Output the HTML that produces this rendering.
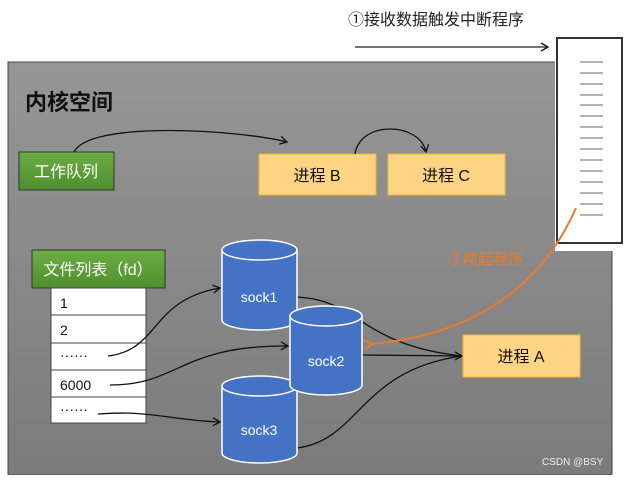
<!DOCTYPE html>
<html><head><meta charset="utf-8"><style>
body{margin:0;width:630px;height:475px;background:#fff;overflow:hidden;font-family:"Liberation Sans","Noto Sans CJK SC",sans-serif}
</style></head><body>
<svg width="630" height="475" viewBox="0 0 630 475" xmlns="http://www.w3.org/2000/svg" font-family="Liberation Sans, Noto Sans CJK SC, sans-serif">
<defs>
<linearGradient id="g" x1="0" y1="0" x2="0" y2="1"><stop offset="0" stop-color="#969696"/><stop offset="1" stop-color="#7b7b7b"/></linearGradient>
<linearGradient id="gr" x1="0" y1="0" x2="0" y2="1"><stop offset="0" stop-color="#6cae44"/><stop offset="1" stop-color="#4e8f2e"/></linearGradient>
<marker id="a" markerWidth="10" markerHeight="10" refX="8" refY="5" orient="auto" markerUnits="userSpaceOnUse"><path d="M1,1 L8,5 L1,9" fill="none" stroke="#111" stroke-width="1.3"/></marker>
<marker id="ao" markerWidth="12" markerHeight="12" refX="2" refY="6" orient="auto" markerUnits="userSpaceOnUse"><path d="M10,1 L2,6 L10,11" fill="none" stroke="#e87b2c" stroke-width="2"/></marker>
</defs>
<text x="348" y="25" font-size="16" fill="#222">①接收数据触发中断程序</text>
<line x1="355" y1="47" x2="548" y2="47" stroke="#222" stroke-width="1.2" marker-end="url(#a)"/>
<rect x="8" y="62" width="604" height="413" fill="url(#g)" stroke="#444" stroke-width="1"/>
<text x="25" y="110" font-size="22" font-weight="bold" fill="#111">内核空间</text>
<rect x="19" y="152" width="95" height="38" fill="url(#gr)" stroke="#333"/>
<text x="66" y="177" font-size="16" fill="#fff" text-anchor="middle">工作队列</text>
<rect x="259" y="154" width="117" height="41" fill="#fdd483" stroke="#f3b531"/>
<text x="317" y="181" font-size="16" fill="#111" text-anchor="middle">进程 B</text>
<rect x="388" y="154" width="117" height="41" fill="#fdd483" stroke="#f3b531"/>
<text x="446" y="181" font-size="16" fill="#111" text-anchor="middle">进程 C</text>
<path d="M74,152 C90,120 240,130 287,142" fill="none" stroke="#111" stroke-width="1.3" marker-end="url(#a)"/>
<path d="M355,154 C360,120 420,122 426,152" fill="none" stroke="#111" stroke-width="1.3" marker-end="url(#a)"/>
<rect x="555" y="33" width="70" height="218" fill="#fff"/>
<rect x="557" y="38" width="65" height="205" fill="#fff" stroke="#333" stroke-width="2"/>
<g stroke="#888" stroke-width="1.2">
<line x1="580" y1="62" x2="603" y2="62"/><line x1="580" y1="73" x2="603" y2="73"/><line x1="580" y1="84" x2="603" y2="84"/><line x1="580" y1="95" x2="603" y2="95"/><line x1="580" y1="105" x2="603" y2="105"/><line x1="580" y1="116" x2="603" y2="116"/><line x1="580" y1="127" x2="603" y2="127"/><line x1="580" y1="138" x2="603" y2="138"/><line x1="580" y1="149" x2="603" y2="149"/><line x1="580" y1="160" x2="603" y2="160"/><line x1="580" y1="171" x2="603" y2="171"/><line x1="580" y1="182" x2="603" y2="182"/><line x1="580" y1="193" x2="603" y2="193"/><line x1="580" y1="204" x2="603" y2="204"/><line x1="580" y1="215" x2="603" y2="215"/></g>
<rect x="32" y="250" width="133" height="38" fill="url(#gr)" stroke="#333"/>
<text x="98" y="275" font-size="16" fill="#fff" text-anchor="middle">文件列表（fd）</text>
<g fill="#fff" stroke="#444">
<rect x="51" y="288" width="95" height="27"/><rect x="51" y="315" width="95" height="28"/><rect x="51" y="343" width="95" height="27"/><rect x="51" y="370" width="95" height="27"/><rect x="51" y="397" width="95" height="26"/></g>
<g font-size="14" fill="#111"><text x="60" y="308">1</text><text x="60" y="335">2</text><text x="60" y="360">······</text><text x="60" y="390">6000</text><text x="60" y="414">······</text></g>
<g fill="none" stroke="#111" stroke-width="1.3">
<path d="M108,356 C160,350 150,300 220,288" marker-end="url(#a)"/>
<path d="M110,385 C180,385 180,345 288,346" marker-end="url(#a)"/>
<path d="M98,414 C150,410 170,420 220,422" marker-end="url(#a)"/>
<path d="M297,297 C360,300 360,345 462,356"/>
<path d="M362,355 L462,356" marker-end="url(#a)"/>
<path d="M297,448 C360,440 360,370 462,356"/>
</g>
<g fill="#4472c4" stroke="#fff" stroke-width="1.5">
<path d="M222,250 L222,320 A37.5,10 0 0 0 297,320 L297,250"/><ellipse cx="259.5" cy="250" rx="37.5" ry="10"/>
<path d="M222,386 L222,453 A37.5,10 0 0 0 297,453 L297,386"/><ellipse cx="259.5" cy="386" rx="37.5" ry="10"/>
<path d="M290,316 L290,385 A36,10 0 0 0 362,385 L362,316"/><ellipse cx="326" cy="316" rx="36" ry="10"/>
</g>
<g font-size="14" fill="#fff" text-anchor="middle"><text x="259" y="302">sock1</text><text x="326" y="366">sock2</text><text x="259" y="435">sock3</text></g>
<rect x="463" y="335" width="117" height="42" fill="#fdd483" stroke="#f3b531"/>
<text x="521" y="362" font-size="16" fill="#111" text-anchor="middle">进程 A</text>
<path d="M576,208 C540,290 470,335 372,344" fill="none" stroke="#e87b2c" stroke-width="2" marker-end="url(#ao)"/>
<text x="448" y="264" font-size="15" fill="#e87b2c">②唤起程序</text>
<text x="542" y="465" font-size="10" fill="#eee">CSDN @BSY</text>
</svg>
</body></html>
